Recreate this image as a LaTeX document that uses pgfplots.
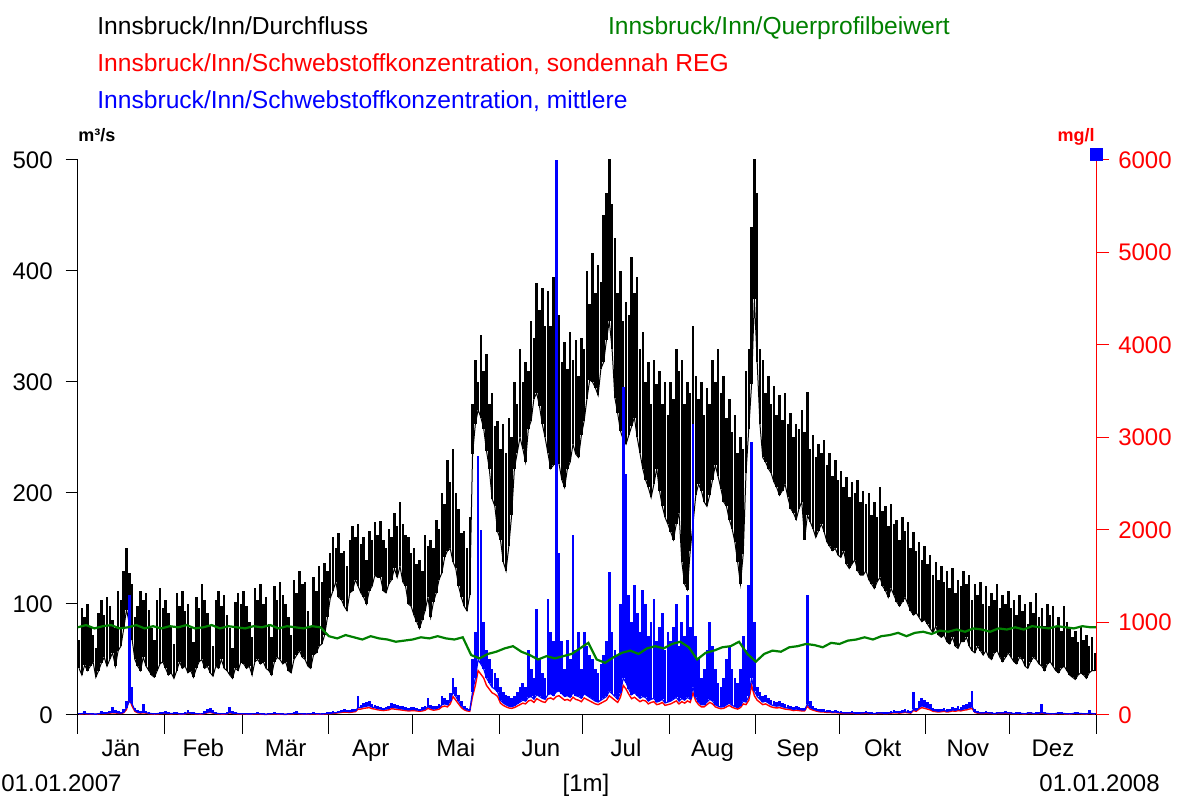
\documentclass[border=0pt]{standalone}
\usepackage{pgfplots}
\pgfplotsset{compat=1.18}
\usepackage{pgfplotstable}
\usepackage{fontspec}
\setmainfont{Liberation Sans}
\definecolor{qgreen}{RGB}{0,128,0}

% Durchfluss: daily minimum and maximum (m3/s), day index 0..364
\pgfplotstableread[row sep=\\]{lo hi\\
42 68\\36 96\\45 88\\40 100\\44 80\\48 72\\34 60\\40 92\\47 104\\52 90\\44 106\\50 98\\56 86\\44 78\\58 112\\62 104\\78 130\\95 150\\82 128\\68 118\\50 88\\44 98\\40 112\\52 104\\44 110\\40 95\\36 78\\34 68\\40 104\\46 114\\48 96\\
42 104\\36 92\\38 80\\33 64\\40 110\\48 98\\42 112\\44 94\\38 100\\40 78\\34 66\\42 106\\48 96\\50 118\\42 104\\44 92\\38 80\\35 62\\44 104\\42 112\\50 98\\42 108\\40 90\\36 78\\33 60\\42 102\\40 110\\48 100\\
46 112\\42 98\\44 84\\36 70\\48 114\\50 104\\46 118\\48 100\\42 106\\40 82\\36 70\\48 116\\52 104\\50 120\\46 108\\48 100\\40 88\\38 72\\50 122\\54 110\\58 130\\52 118\\50 120\\44 94\\42 80\\54 124\\56 112\\62 134\\64 120\\72 137\\88 130\\
105 146\\112 160\\120 150\\106 164\\104 146\\98 148\\94 134\\110 158\\112 170\\122 160\\116 172\\110 154\\106 160\\100 140\\112 166\\116 158\\126 174\\124 162\\124 175\\112 158\\110 150\\118 168\\122 160\\132 182\\124 170\\134 192\\120 172\\116 162\\100 160\\98 146\\
90 150\\84 136\\78 140\\86 130\\94 162\\106 152\\88 158\\102 150\\110 176\\122 168\\128 200\\142 190\\148 230\\150 210\\138 240\\132 200\\116 186\\106 164\\98 166\\94 150\\108 178\\235 280\\262 320\\275 300\\268 342\\258 310\\238 325\\222 280\\195 290\\188 260\\165 265\\
158 240\\138 262\\130 236\\152 268\\180 250\\222 300\\236 280\\250 330\\240 300\\228 318\\258 310\\265 355\\285 340\\290 389\\278 365\\262 385\\250 350\\236 382\\222 350\\225 395\\244 340\\226 360\\212 318\\205 336\\222 312\\228 345\\244 320\\235 338\\232 305\\252 340\\
265 330\\285 400\\302 370\\300 416\\295 380\\288 405\\312 390\\318 450\\338 470\\355 510\\330 460\\286 430\\272 380\\256 400\\248 355\\244 372\\252 360\\260 413\\268 380\\250 395\\236 330\\222 345\\212 300\\205 318\\196 280\\208 320\\222 298\\202 310\\188 280\\178 300\\172 270\\
165 300\\158 285\\172 330\\182 310\\138 320\\118 280\\113 300\\148 290\\172 350\\198 305\\208 285\\202 300\\192 270\\188 295\\198 280\\212 320\\225 300\\215 330\\204 290\\192 305\\188 268\\176 285\\168 255\\156 270\\138 236\\118 250\\145 240\\218 310\\258 330\\298 440\\375 510\\
318 470\\262 330\\232 320\\228 290\\222 305\\218 280\\210 296\\205 270\\198 288\\202 266\\208 290\\196 262\\186 272\\182 250\\176 262\\186 258\\192 275\\158 255\\180 291\\174 240\\168 252\\160 232\\166 244\\172 236\\165 248\\156 225\\152 236\\148 215\\150 230\\144 212\\
142 220\\148 205\\136 214\\132 196\\136 210\\140 200\\130 212\\126 192\\126 202\\130 190\\122 200\\118 180\\114 192\\120 178\\124 205\\116 184\\112 188\\106 170\\114 190\\108 172\\102 176\\98 158\\102 178\\106 166\\100 174\\94 150\\90 165\\92 148\\88 156\\84 140\\86 152\\
82 136\\78 144\\74 126\\80 138\\72 122\\70 134\\72 120\\66 130\\64 114\\70 132\\62 110\\60 122\\66 116\\66 130\\70 118\\62 126\\58 104\\56 118\\62 108\\58 120\\54 100\\58 116\\52 98\\50 110\\56 104\\58 118\\52 96\\48 108\\52 100\\56 112\\
52 96\\48 104\\46 90\\52 108\\50 94\\44 100\\42 82\\48 102\\52 92\\50 110\\46 88\\44 96\\40 80\\46 100\\48 90\\44 98\\40 80\\38 88\\42 76\\44 98\\40 84\\36 78\\34 70\\32 76\\36 66\\38 80\\36 68\\33 72\\38 62\\40 70\\40 56\\
}\Qtab

% Querprofilbeiwert, every third day
\pgfplotstableread[row sep=\\]{g\\
79\\81\\78\\80\\81\\78\\79\\81\\78\\80\\78\\80\\79\\81\\78\\79\\81\\78\\80\\79\\78\\80\\79\\81\\78\\80\\79\\78\\80\\79\\
71\\69\\72\\70\\68\\71\\69\\68\\66\\67\\68\\70\\69\\71\\69\\68\\70\\
54\\51\\55\\57\\60\\62\\57\\54\\50\\53\\51\\53\\55\\60\\65\\
50\\47\\52\\56\\58\\55\\60\\62\\60\\64\\66\\61\\50\\56\\58\\61\\62\\66\\55\\48\\
55\\58\\57\\61\\62\\64\\63\\61\\65\\64\\67\\68\\70\\68\\71\\72\\74\\71\\74\\75\\
73\\76\\75\\77\\75\\78\\77\\75\\78\\77\\79\\77\\80\\79\\78\\80\\79\\78\\80\\79\\79\\
}\Gtab

% Schwebstoffkonzentration (mg/l), daily: mittlere lo/hi, sondennah REG r
\pgfplotstableread[row sep=\\]{lo hi r\\
12 20 10\\15 25 12\\18 40 14\\14 22 11\\12 20 10\\10 18 8\\10 15 8\\14 25 11\\20 40 16\\18 30 14\\20 35 16\\25 45 20\\30 90 24\\28 50 22\\22 40 18\\20 35 16\\30 60 24\\80 150 60\\150 1300 180\\120 300 96\\50 80 40\\30 50 24\\25 40 20\\30 120 24\\25 45 20\\18 30 14\\15 25 12\\12 20 10\\15 25 12\\18 30 14\\20 35 16\\
20 40 16\\18 30 14\\15 25 12\\18 30 14\\20 35 16\\12 20 10\\10 18 8\\15 30 12\\25 50 20\\20 35 16\\18 30 14\\15 25 12\\12 20 10\\12 22 10\\20 40 16\\30 60 24\\35 80 28\\25 50 20\\18 30 14\\15 25 12\\12 22 10\\12 20 10\\15 30 12\\30 90 24\\20 40 16\\18 30 14\\15 25 12\\12 20 10\\
14 25 11\\12 20 10\\10 18 8\\12 22 10\\14 25 11\\16 30 13\\12 20 10\\10 18 8\\8 15 6\\12 20 10\\14 25 11\\16 30 13\\12 22 10\\12 20 10\\10 18 8\\8 15 6\\12 20 10\\14 25 11\\16 30 13\\20 40 16\\14 25 11\\12 20 10\\10 18 8\\12 22 10\\14 25 11\\16 30 13\\12 22 10\\12 20 10\\10 18 8\\14 25 11\\16 30 13\\
18 30 14\\22 40 18\\25 35 20\\30 45 24\\35 50 28\\40 60 32\\38 55 30\\35 50 28\\40 60 32\\45 70 36\\80 200 64\\80 110 64\\90 130 72\\95 140 76\\100 150 80\\85 120 68\\80 110 64\\70 100 56\\65 90 52\\60 80 48\\65 90 52\\70 100 56\\85 130 68\\80 120 64\\75 110 60\\70 100 56\\65 95 52\\60 90 48\\55 80 44\\58 85 46\\
60 90 48\\55 80 44\\50 70 40\\55 85 44\\65 100 52\\90 180 72\\75 110 60\\65 95 52\\70 100 56\\80 120 64\\110 200 88\\120 180 96\\110 160 88\\150 240 120\\250 400 200\\200 300 160\\150 220 120\\100 150 80\\70 100 56\\55 80 44\\50 70 40\\250 600 200\\400 900 320\\600 2800 480\\550 2000 440\\500 1000 400\\400 700 320\\350 600 280\\300 500 240\\280 450 224\\250 400 200\\
160 300 128\\130 250 104\\110 220 88\\95 200 76\\90 180 72\\100 200 80\\120 250 96\\140 300 112\\160 350 128\\150 300 120\\190 700 152\\200 500 160\\170 400 136\\220 1150 176\\200 600 160\\180 450 144\\170 400 136\\220 1250 176\\230 900 184\\210 800 168\\250 6000 200\\260 1750 208\\230 800 184\\200 500 160\\210 810 168\\190 600 152\\240 1950 192\\210 700 168\\200 900 160\\180 500 144\\
230 900 184\\210 750 168\\190 650 152\\170 600 136\\150 500 120\\140 450 112\\160 550 128\\180 650 144\\200 800 160\\260 1550 208\\230 900 184\\200 700 160\\170 650 136\\240 1200 192\\400 3550 320\\350 2600 280\\280 1300 224\\220 1000 176\\240 1400 192\\210 1100 168\\180 900 144\\200 1350 160\\190 1200 152\\150 850 120\\170 1000 136\\180 1250 144\\140 800 112\\150 950 120\\170 1100 136\\130 700 104\\140 900 112\\
150 800 120\\170 950 136\\190 1200 152\\150 750 120\\180 1000 144\\160 850 128\\190 1300 152\\170 950 136\\300 3150 240\\190 850 152\\140 600 112\\110 400 88\\110 500 88\\140 700 112\\170 1000 136\\150 750 120\\110 500 88\\95 350 76\\85 300 68\\90 400 72\\110 600 88\\130 750 104\\105 500 84\\90 400 72\\80 350 64\\100 500 80\\150 850 120\\140 700 112\\200 1400 160\\400 2950 320\\260 1000 208\\
200 300 160\\170 250 136\\140 200 112\\150 220 120\\130 180 104\\110 160 88\\100 150 80\\95 140 76\\100 150 80\\90 130 72\\80 120 64\\75 110 60\\70 100 56\\60 90 48\\65 100 52\\60 90 48\\55 80 44\\55 80 44\\120 1300 96\\80 150 64\\65 100 52\\55 80 44\\45 70 36\\40 60 32\\40 60 32\\35 50 28\\35 50 28\\30 45 24\\32 50 26\\28 40 22\\
25 40 20\\22 35 18\\20 30 16\\22 35 18\\25 40 20\\20 30 16\\18 28 14\\20 30 16\\22 35 18\\25 40 20\\20 30 16\\18 28 14\\16 25 13\\20 30 16\\22 35 18\\20 30 16\\18 28 14\\20 30 16\\25 40 20\\30 50 24\\28 45 22\\25 40 20\\30 50 24\\35 60 28\\30 50 24\\25 40 20\\60 250 48\\50 80 40\\80 150 64\\100 180 80\\90 160 72\\
80 140 64\\70 120 56\\50 80 40\\45 70 36\\40 60 32\\45 70 36\\50 80 40\\40 60 32\\45 70 36\\55 90 44\\50 80 40\\60 100 48\\55 90 44\\65 110 52\\70 120 56\\80 140 64\\90 260 72\\35 60 28\\25 40 20\\22 35 18\\20 30 16\\25 40 20\\22 35 18\\20 30 16\\16 25 13\\20 30 16\\22 35 18\\20 30 16\\25 40 20\\20 30 16\\
20 30 16\\16 25 13\\18 28 14\\20 30 16\\16 25 13\\14 22 11\\20 30 16\\22 35 18\\16 25 13\\18 28 14\\20 30 16\\25 120 20\\20 30 16\\16 25 13\\14 22 11\\12 20 10\\16 25 13\\20 30 16\\18 28 14\\16 25 13\\14 22 11\\12 20 10\\16 25 13\\20 30 16\\18 28 14\\16 25 13\\14 22 11\\12 20 10\\20 50 16\\16 25 13\\12 20 10\\
}\Btab

\begin{document}
\begin{tikzpicture}
\useasboundingbox (0,0) rectangle (591pt,398pt);
\pgfplotsset{
  chartbox/.style={at={(38.85pt,40.5pt)}, anchor=south west,
    scale only axis, width=509.25pt, height=277.5pt, xmin=0, xmax=365},
}
\begin{axis}[
  chartbox, ymin=0, ymax=500,
  axis x line=bottom, axis y line=left,
  axis line style={-, line width=0.5pt, black},
  tick align=outside,
  major tick length=6pt, minor tick length=9.5pt,
  xtick={15.5,45,74.5,105,135.5,166,196.5,227.5,258,288.5,319,349.5},
  xticklabels={Jän,Feb,Mär,Apr,Mai,Jun,Jul,Aug,Sep,Okt,Nov,Dez},
  minor xtick={0,31,59,90,120,151,181,212,243,273,304,334,365},
  major x tick style={draw=none},
  minor x tick style={black, line width=0.5pt},
  xticklabel style={anchor=base, yshift=-14.8pt},
  ytick={0,100,200,300,400,500},
  ytick style={black, line width=0.5pt},
  yticklabel style={xshift=-3pt},
  ticklabel style={font=\fontsize{12}{14}\selectfont},
  /pgf/number format/assume math mode=true,
]
\addplot[black, line width=0.5pt, mark=none,
  error bars/.cd, y dir=plus, y explicit, error mark=none,
  error bar style={line width=1.25pt, black}]
  table[x expr=\coordindex+0.5, y=lo, y error expr=\thisrow{hi}-\thisrow{lo}] {\Qtab};
\end{axis}
\begin{axis}[
  chartbox, ymin=0, ymax=6000,
  axis x line=none, axis y line=right,
  axis line style={-, line width=0.5pt, red},
  tick align=outside,
  major tick length=6.5pt,
  ytick={0,1000,2000,3000,4000,5000,6000},
  ytick style={red, line width=0.5pt},
  yticklabel style={red, xshift=1pt},
  ticklabel style={font=\fontsize{12}{14}\selectfont},
  /pgf/number format/1000 sep={},
  /pgf/number format/assume math mode=true,
  clip=false,
]
\addplot[red, line width=0.7pt, mark=none]
  table[x expr=\coordindex+0.5, y=r] {\Btab};
\addplot[blue, line width=0.6pt, mark=none,
  error bars/.cd, y dir=plus, y explicit, error mark=none,
  error bar style={line width=1.35pt, blue}]
  table[x expr=\coordindex+0.5, y=lo, y error expr=\thisrow{hi}-\thisrow{lo}] {\Btab};
\addplot[only marks, mark=square*, mark size=2.9pt, blue]
  coordinates {(365,6059)};
\end{axis}
\begin{axis}[chartbox, ymin=0, ymax=500, hide axis]
\addplot[qgreen, line width=1.1pt, mark=none]
  table[x expr=3*\coordindex, y=g] {\Gtab};
\end{axis}
\node[anchor=base west, inner sep=0pt, font=\fontsize{12.3}{14}\selectfont] at (48.5pt,380.5pt) {Innsbruck/Inn/Durchfluss};
\node[anchor=base west, inner sep=0pt, text=qgreen, font=\fontsize{12.3}{14}\selectfont] at (303.8pt,380.5pt) {Innsbruck/Inn/Querprofilbeiwert};
\node[anchor=base west, inner sep=0pt, text=red, font=\fontsize{12.3}{14}\selectfont] at (48.5pt,362pt) {Innsbruck/Inn/Schwebstoffkonzentration, sondennah REG};
\node[anchor=base west, inner sep=0pt, text=blue, font=\fontsize{12.3}{14}\selectfont] at (48.5pt,343.5pt) {Innsbruck/Inn/Schwebstoffkonzentration, mittlere};
\node[anchor=base west, inner sep=0pt, font=\bfseries\fontsize{9}{10}\selectfont] at (39pt,327pt) {m³/s};
\node[anchor=base east, inner sep=0pt, text=red, font=\bfseries\fontsize{9}{10}\selectfont] at (547.5pt,327pt) {mg/l};
\node[anchor=base west, inner sep=0pt, font=\fontsize{12}{14}\selectfont] at (0.5pt,2pt) {01.01.2007};
\node[anchor=base, inner sep=0pt, font=\fontsize{12}{14}\selectfont] at (293pt,2pt) {[1m]};
\node[anchor=base east, inner sep=0pt, font=\fontsize{12}{14}\selectfont] at (580pt,2pt) {01.01.2008};
\end{tikzpicture}
\end{document}
